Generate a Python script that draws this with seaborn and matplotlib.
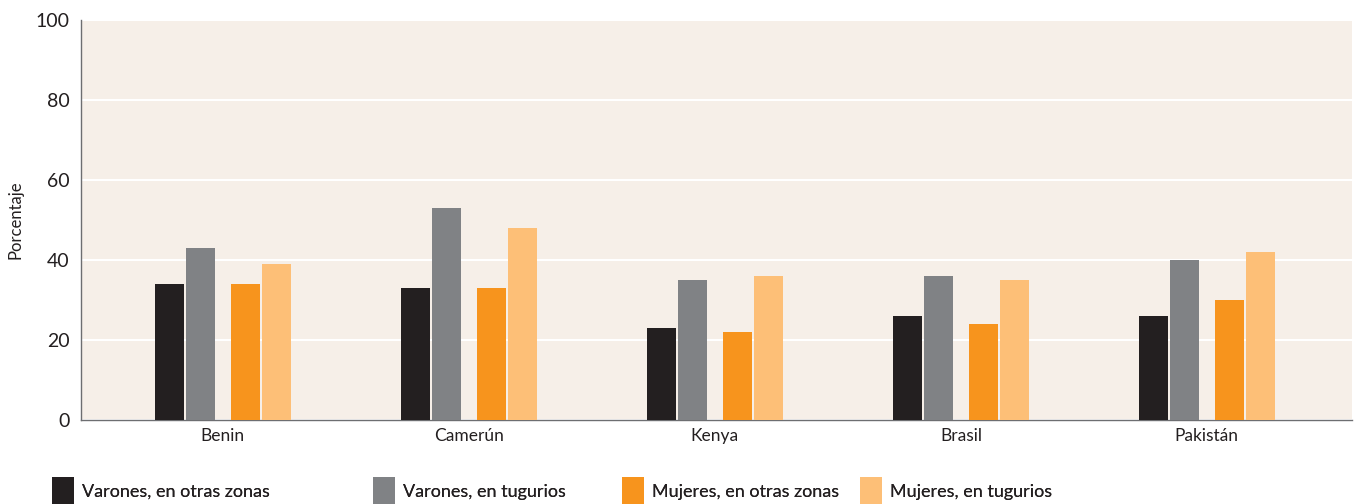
import numpy as np
import pandas as pd
import seaborn as sns
import matplotlib.pyplot as plt
from matplotlib.patches import Patch

countries = ["Benin", "Camerún", "Kenya", "Brasil", "Pakistán"]
varones_otras = [34, 33, 23, 26, 26]
varones_tugurios = [43, 53, 35, 36, 40]
mujeres_otras = [34, 33, 22, 24, 30]
mujeres_tugurios = [39, 48, 36, 35, 42]

series_names = ["Varones, en otras zonas", "Varones, en tugurios",
                "Mujeres, en otras zonas", "Mujeres, en tugurios"]
series_values = [varones_otras, varones_tugurios, mujeres_otras, mujeres_tugurios]
colors = ["#231f20", "#808285", "#f7941d", "#fdbf77"]
offsets = [-0.2175, -0.0915, 0.0915, 0.2175]
bar_w = 0.118

sns.set_style("white")
plt.rcParams["font.family"] = ["Lato", "DejaVu Sans"]

fig = plt.figure(figsize=(13.54, 5.04), dpi=100)
ax = fig.add_axes([81 / 1354, 84 / 504, 1271 / 1354, 400 / 504])
ax.set_facecolor("#f6efe8")

idx = np.arange(len(countries))
for name, vals, col, off in zip(series_names, series_values, colors, offsets):
    df = pd.DataFrame({"pos": idx + off, "val": vals})
    sns.barplot(data=df, x="pos", y="val", native_scale=True, width=bar_w,
                color=col, saturation=1, linewidth=0, edgecolor="none",
                ax=ax, zorder=3)

ax.set_xlim(-0.577, 4.59)
ax.set_ylim(0, 100)
ax.set_yticks(range(0, 101, 20))
ax.set_xticks(idx)
ax.set_xticklabels(countries, fontsize=12.5, color="#231f20")
ax.tick_params(axis="y", labelsize=14, colors="#231f20", length=0, pad=8)
ax.tick_params(axis="x", length=0, pad=6)
ax.set_xlabel("")
ax.set_ylabel("Porcentaje", fontsize=12, color="#231f20", labelpad=9)

ax.yaxis.grid(True, color="white", linewidth=1.5, zorder=0)
ax.set_axisbelow(True)
for s in ["top", "right"]:
    ax.spines[s].set_visible(False)
for s in ["left", "bottom"]:
    ax.spines[s].set_color("#6d6e71")
    ax.spines[s].set_linewidth(1)

# legend entries placed individually along the bottom
legend_x = [52, 373, 622, 860]
for name, col, lx in zip(series_names, colors, legend_x):
    leg = fig.legend([Patch(facecolor=col, edgecolor="none")], [name],
                     loc="center left", bbox_to_anchor=(lx / 1354, 13 / 504),
                     frameon=False, fontsize=13, handlelength=1.2, handleheight=2.0,
                     handletextpad=0.45, borderpad=0, borderaxespad=0,
                     labelcolor="#231f20")
    fig.add_artist(leg)

fig.savefig("out.png", dpi=100)
